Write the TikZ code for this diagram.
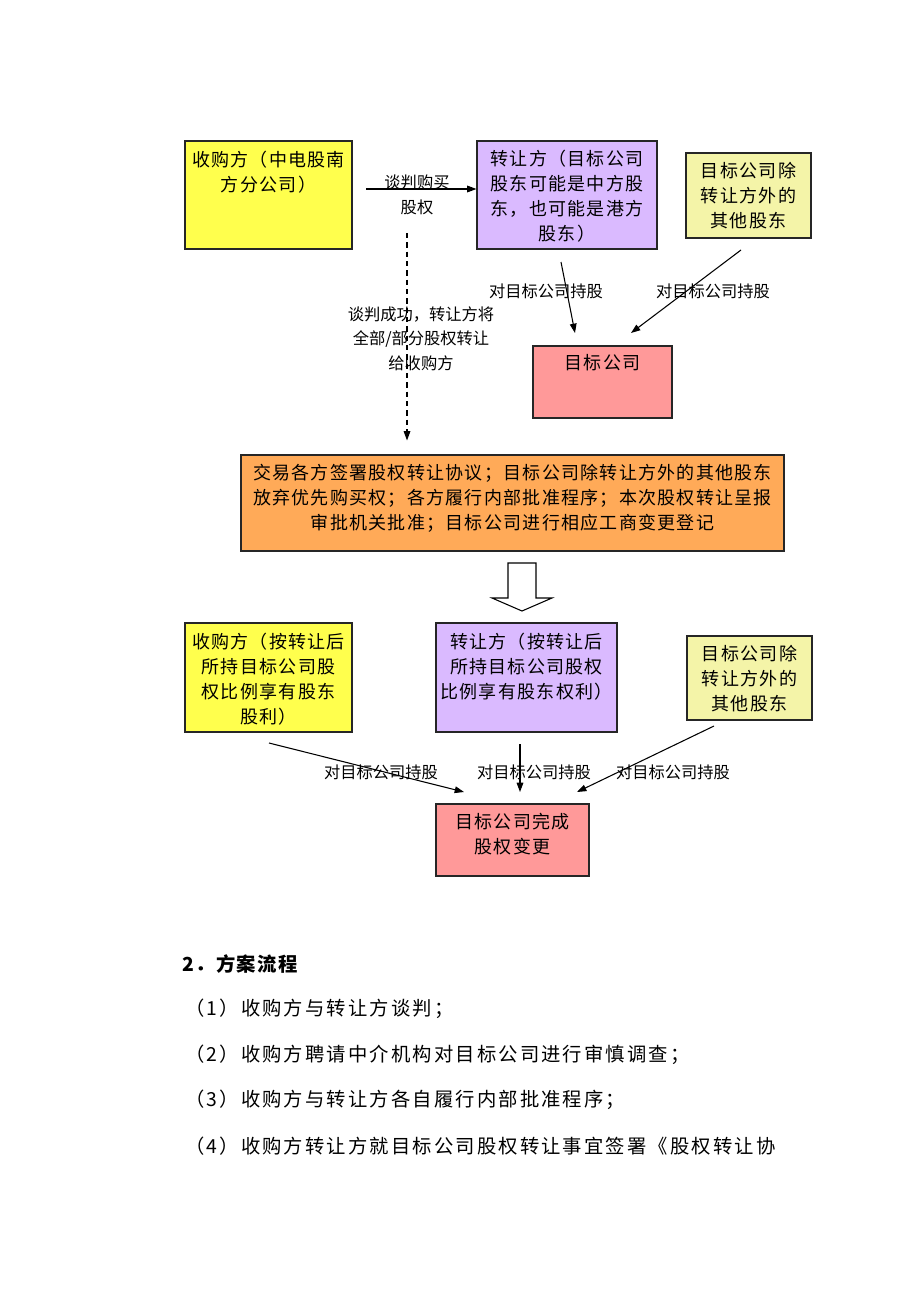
\documentclass[tikz,border=0pt]{standalone}
\usepackage{fontspec}
\setmainfont{Noto Sans CJK SC}
\newfontfamily\cjk[LetterSpace=7]{Noto Sans CJK SC}
\newfontfamily\cjkp[LetterSpace=11]{Noto Sans CJK SC}
\newfontfamily\cjkl{Noto Sans CJK SC}
\usetikzlibrary{arrows.meta,fit}
\definecolor{cyel}{RGB}{255,255,77}
\definecolor{cpur}{RGB}{218,186,255}
\definecolor{clyel}{RGB}{244,244,168}
\definecolor{cpink}{RGB}{255,153,153}
\definecolor{corg}{RGB}{255,170,88}
\tikzset{
  box/.style={draw=black!85, line width=0.8pt, inner sep=0pt},
  btxt/.style={font=\cjk\fontsize{13.5}{18.75}\selectfont, align=center, inner sep=0pt},
  ltxt/.style={font=\cjkl\fontsize{12.2}{18.5}\selectfont, align=center, inner sep=0pt},
  ptxt/.style={font=\cjkp\fontsize{14.5}{18}\selectfont, anchor=west, inner sep=0pt},
  conn/.style={-{Triangle[length=7pt,width=5pt]}, line width=0.8pt},
}
\begin{document}
\begin{tikzpicture}[x=0.75pt,y=-0.75pt]
\fill[white] (0,0) rectangle (920,1302);
\useasboundingbox (0,0) rectangle (920,1302);

% ---- top row boxes
\node[box, fill=cyel, fit={(185,141) (352,249)}] (A) {};
\node[btxt] (At) at (268.5,172) {收购方（中电股南\\方分公司）};
\node[box, fill=cpur, fit={(477,141) (657,249)}] (B) {};
\node[btxt] (Bt) at (567,196) {转让方（目标公司\\股东可能是中方股\\东，也可能是港方\\股东）};
\node[box, fill=clyel, fit={(686,153) (811,238)}] (C) {};
\node[btxt] (Ct) at (748.5,196) {目标公司除\\转让方外的\\其他股东};
\node[box, fill=cpink, fit={(533,346) (672,418)}] (D) {};
\node[btxt] (Dt) at (602.5,363) {目标公司};

% ---- orange box
\node[box, fill=corg, fit={(241,455) (784,551)}] (E) {};
\node[btxt] (Et) at (512.5,498) {交易各方签署股权转让协议；目标公司除转让方外的其他股东\\放弃优先购买权；各方履行内部批准程序；本次股权转让呈报\\审批机关批准；目标公司进行相应工商变更登记};

% ---- hollow arrow
\draw[fill=white, line width=0.8pt] (508,563) -- (536,563) -- (536,598) -- (552,598) -- (522,611) -- (492,598) -- (508,598) -- cycle;

% ---- bottom row boxes
\node[box, fill=cyel, fit={(185,623) (352,732)}] (F) {};
\node[btxt] (Ft) at (268.5,679) {收购方（按转让后\\所持目标公司股\\权比例享有股东\\股利）};
\node[box, fill=cpur, fit={(436,623) (617,732)}] (G) {};
\node[btxt] (Gt) at (526.5,667) {转让方（按转让后\\所持目标公司股权\\比例享有股东权利）};
\node[box, fill=clyel, fit={(687,636) (812,720)}] (H) {};
\node[btxt] (Ht) at (749.5,679) {目标公司除\\转让方外的\\其他股东};
\node[box, fill=cpink, fit={(436,804) (589,876)}] (I) {};
\node[btxt] (It) at (512.5,834.5) {目标公司完成\\股权变更};

% ---- connectors top
\coordinate (ab1) at (366,189);
\draw[conn] (ab1) -- (B.west |- ab1);
\node[ltxt] (lab1) at (417,182) {谈判购买};
\node[ltxt] (lab2) at (417,207) {股权};

\coordinate (ds) at (407,233);
\draw[conn, dash pattern=on 4pt off 3pt, shorten >=10.5pt] (ds) -- (ds |- E.north);
\node[ltxt] (lab3) at (421,338.5) {谈判成功，转让方将\\全部/部分股权转让\\给收购方};

\coordinate (bd1) at (561,262);
\coordinate (bd2) at (575,333);
\draw[conn] (bd1) -- (bd2);
\coordinate (cd1) at (741,250);
\coordinate (cd2) at (631,333);
\draw[conn] (cd1) -- (cd2);
\node[ltxt] (lab4) at (546,291) {对目标公司持股};
\node[ltxt] (lab5) at (713,291) {对目标公司持股};

% ---- connectors bottom
\coordinate (fi1) at (269,743);
\coordinate (fi2) at (464,792);
\draw[conn] (fi1) -- (fi2);
\coordinate (gi1) at (520,744);
\draw[conn] (gi1) -- (gi1 |- 0,792);
\coordinate (hi1) at (714,726);
\coordinate (hi2) at (577,792);
\draw[conn] (hi1) -- (hi2);
\node[ltxt] (lab6) at (381,772) {对目标公司持股};
\node[ltxt] (lab7) at (534,772) {对目标公司持股};
\node[ltxt] (lab8) at (673,772) {对目标公司持股};

% ---- text section
\node[ptxt, font=\cjk\bfseries\fontsize{14.5}{18}\selectfont] (h2) at (182,964) {2．方案流程};
\node[ptxt] (p1) at (185,1009) {（1）收购方与转让方谈判；};
\node[ptxt] (p2) at (185,1055) {（2）收购方聘请中介机构对目标公司进行审慎调查；};
\node[ptxt] (p3) at (185,1100) {（3）收购方与转让方各自履行内部批准程序；};
\node[ptxt] (p4) at (185,1146) {（4）收购方转让方就目标公司股权转让事宜签署《股权转让协};
\end{tikzpicture}
\end{document}
